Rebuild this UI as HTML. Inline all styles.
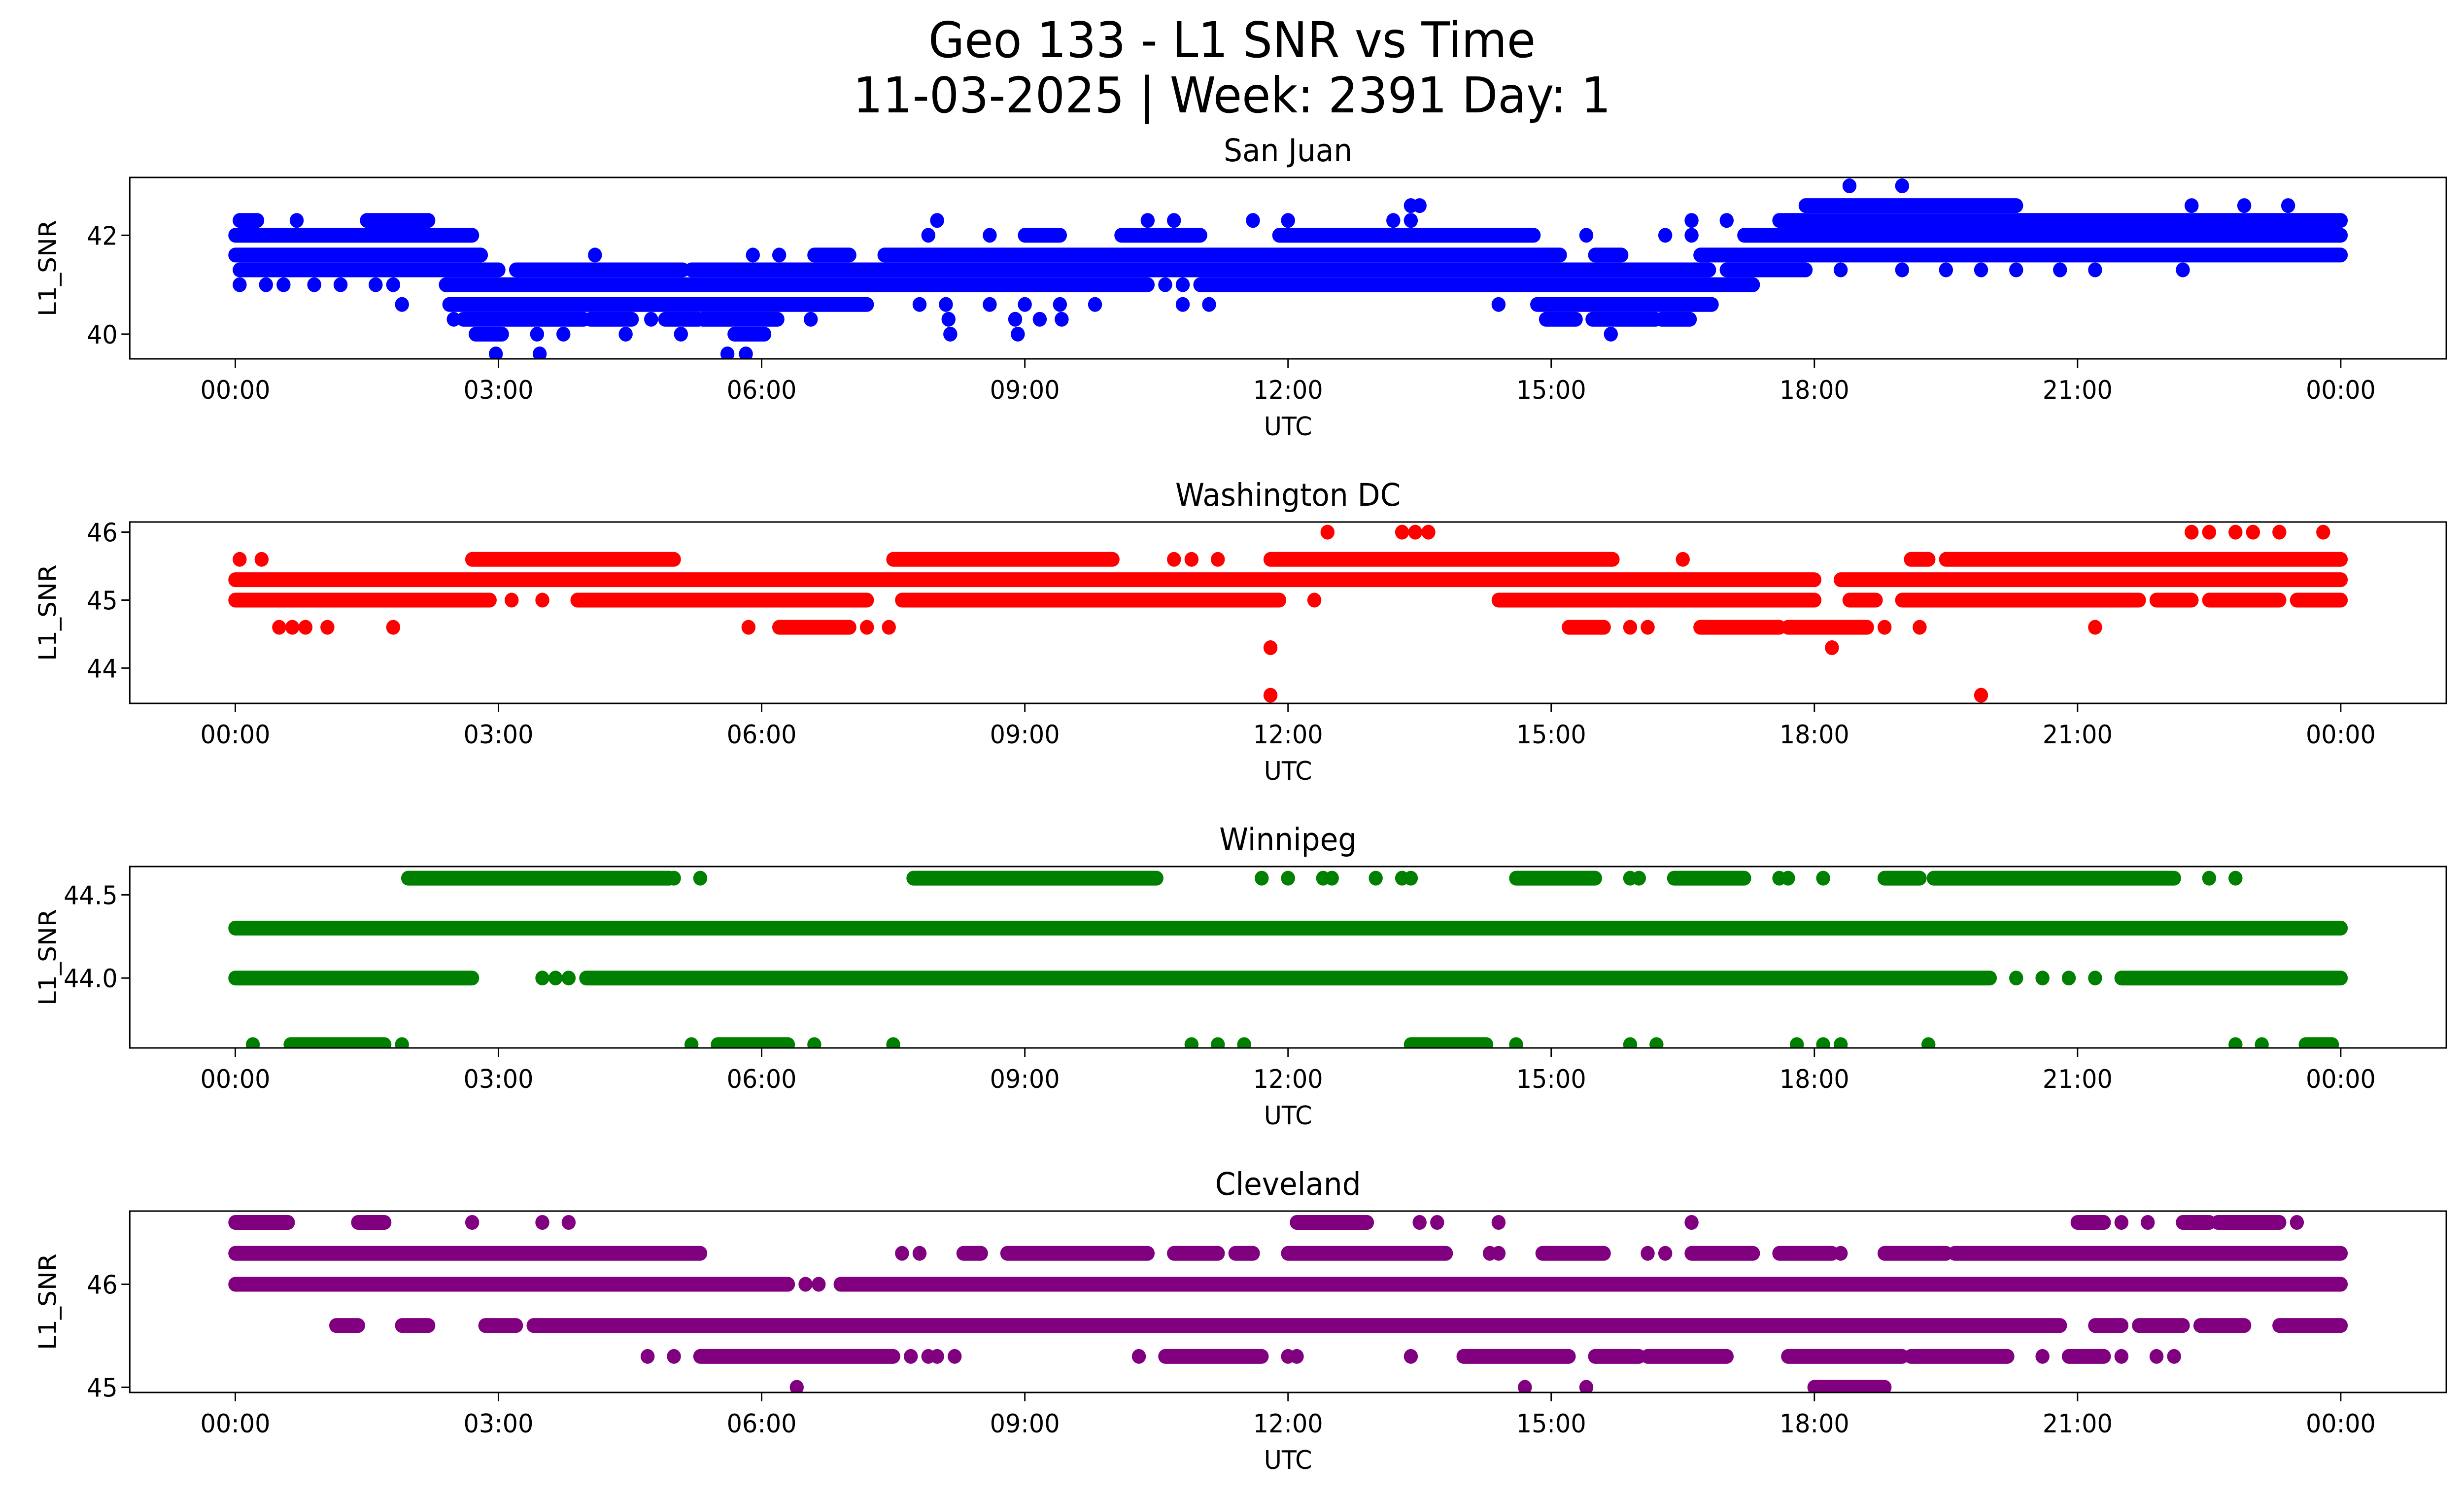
<!DOCTYPE html>
<html><head><meta charset="utf-8"><style>
html,body{margin:0;padding:0;background:#fff;overflow:hidden;width:100%;height:100%;}
svg{display:block;width:100vw;height:100vh;font-family:"DejaVu Sans","Liberation Sans",sans-serif;}
</style></head><body>
<svg id="chart" viewBox="0 0 5278 3033" preserveAspectRatio="none" xmlns="http://www.w3.org/2000/svg">
<rect width="5278" height="3033" fill="#fff"/>
<text x="2639" y="116" font-size="100" text-anchor="middle">Geo 133 - L1 SNR vs Time</text>
<text x="2639" y="228" font-size="100" text-anchor="middle">11-03-2025 | Week: 2391 Day: 1</text>
</svg>
<script>
// ---- data (hours UTC, SNR) ----
const tickHours = [0,3,6,9,12,15,18,21,24];
const tickLabels = ["00:00","03:00","06:00","09:00","12:00","15:00","18:00","21:00","00:00"];
const stationNames = ["San Juan","Washington DC","Winnipeg","Cleveland"];
const stationColors = ["#0000ff","#ff0000","#008000","#800080"];
const yLimits = [[39.5,43.17],[43.48,46.15],[43.58,44.67],[44.95,46.71]];
const yTickValues = [[40,42],[44,45,46],[44.0,44.5],[45,46]];
const yTickLabels = [["40","42"],["44","45","46"],["44.0","44.5"],["45","46"]];

// runs: [snr, startHour, endHour]  (dense consecutive samples)
const sanJuanRuns = [
 [42.3,0.05,0.25],[42.3,1.5,2.2],[42.3,17.6,24],
 [42.6,17.9,20.3],
 [42.0,0,2.7],[42.0,9.0,9.4],[42.0,10.1,11.0],[42.0,11.9,14.8],[42.0,17.2,24],
 [41.6,0,2.8],[41.6,6.6,7.0],[41.6,7.4,15.1],[41.6,15.5,15.8],[41.6,16.7,24],
 [41.3,0.05,3.0],[41.3,3.2,5.1],[41.3,5.2,16.8],[41.3,17.0,17.9],
 [41.0,2.4,10.4],[41.0,11.0,17.3],
 [40.6,2.44,7.2],[40.6,14.84,16.83],
 [40.3,2.6,3.97],[40.3,4.05,4.52],[40.3,4.9,5.28],[40.3,5.33,6.18],[40.3,14.94,15.28],[40.3,15.47,16.19],[40.3,16.26,16.58],
 [40.0,2.74,3.04],[40.0,5.69,6.03]
];
const sanJuanPoints = [
 [0.7,42.3],[8.0,42.3],[10.4,42.3],[10.7,42.3],[11.6,42.3],[12.0,42.3],[13.2,42.3],[13.4,42.3],[16.6,42.3],[17.0,42.3],
 [13.4,42.6],[13.5,42.6],[22.3,42.6],[22.9,42.6],[23.4,42.6],
 [18.4,43.0],[19.0,43.0],
 [7.9,42.0],[8.6,42.0],[15.4,42.0],[16.3,42.0],[16.6,42.0],
 [4.1,41.6],[5.9,41.6],[6.2,41.6],
 [18.3,41.3],[19.0,41.3],[19.5,41.3],[19.9,41.3],[20.3,41.3],[20.8,41.3],[21.2,41.3],[22.2,41.3],
 [0.05,41.0],[0.35,41.0],[0.55,41.0],[0.9,41.0],[1.2,41.0],[1.6,41.0],[1.8,41.0],[10.6,41.0],[10.8,41.0],
 [1.9,40.6],[7.8,40.6],[8.1,40.6],[8.6,40.6],[9.0,40.6],[9.4,40.6],[9.8,40.6],[10.8,40.6],[11.1,40.6],[14.4,40.6],
 [2.49,40.3],[4.74,40.3],[6.56,40.3],[8.13,40.3],[8.89,40.3],[9.17,40.3],[9.42,40.3],
 [3.44,40.0],[3.74,40.0],[4.45,40.0],[5.08,40.0],[8.15,40.0],[8.92,40.0],[15.68,40.0],
 [2.97,39.6],[3.47,39.6],[5.61,39.6],[5.82,39.6]
];
const washingtonRuns = [
 [45.3,0,18.0],[45.3,18.3,24],
 [45.0,0,2.9],[45.0,3.9,7.2],[45.0,7.6,11.9],[45.0,14.4,18.0],[45.0,18.4,18.7],[45.0,19.0,21.7],[45.0,21.9,22.3],[45.0,22.5,23.3],[45.0,23.5,24],
 [45.6,2.7,5.0],[45.6,7.5,10.0],[45.6,11.8,15.7],[45.6,19.1,19.3],[45.6,19.5,24],
 [44.6,6.2,7.0],[44.6,15.2,15.6],[44.6,16.7,17.6],[44.6,17.7,18.6]
];
const washingtonPoints = [
 [3.15,45.0],[3.5,45.0],[12.3,45.0],
 [0.05,45.6],[0.3,45.6],[10.7,45.6],[10.9,45.6],[11.2,45.6],[16.5,45.6],
 [12.45,46.0],[13.3,46.0],[13.45,46.0],[13.6,46.0],[22.3,46.0],[22.5,46.0],[22.8,46.0],[23.0,46.0],[23.3,46.0],[23.8,46.0],
 [0.5,44.6],[0.65,44.6],[0.8,44.6],[1.05,44.6],[1.8,44.6],[5.85,44.6],[7.2,44.6],[7.45,44.6],[15.9,44.6],[16.1,44.6],[18.8,44.6],[19.2,44.6],[21.2,44.6],
 [11.8,44.3],[18.2,44.3],
 [11.8,43.6],[19.9,43.6]
];
const winnipegRuns = [
 [44.3,0,24],
 [44.0,0,2.7],[44.0,4.0,20.0],[44.0,21.5,24],
 [44.6,1.97,4.95],[44.6,7.73,10.5],[44.6,14.6,15.5],[44.6,16.4,17.2],[44.6,18.8,19.2],[44.6,19.36,22.1],
 [43.6,0.63,1.7],[43.6,5.5,6.3],[43.6,13.4,14.26],[43.6,23.6,23.9]
];
const winnipegPoints = [
 [3.5,44.0],[3.65,44.0],[3.8,44.0],[20.3,44.0],[20.6,44.0],[20.9,44.0],[21.2,44.0],
 [5.0,44.6],[5.3,44.6],[11.7,44.6],[12.0,44.6],[12.4,44.6],[12.5,44.6],[13.0,44.6],[13.3,44.6],[13.4,44.6],[15.9,44.6],[16.0,44.6],[17.6,44.6],[17.7,44.6],[18.1,44.6],[22.5,44.6],[22.8,44.6],
 [0.2,43.6],[1.9,43.6],[5.2,43.6],[6.6,43.6],[7.5,43.6],[10.9,43.6],[11.2,43.6],[11.5,43.6],[14.6,43.6],[15.9,43.6],[16.2,43.6],[17.8,43.6],[18.1,43.6],[18.3,43.6],[19.3,43.6],[22.8,43.6],[23.1,43.6]
];
const clevelandRuns = [
 [46.0,0,6.3],[46.0,6.9,24],
 [45.6,1.15,1.4],[45.6,1.9,2.2],[45.6,2.85,3.2],[45.6,3.4,20.8],[45.6,21.2,21.5],[45.6,21.7,22.2],[45.6,22.4,22.9],[45.6,23.3,24],
 [46.3,0,5.3],[46.3,8.3,8.5],[46.3,8.8,10.4],[46.3,10.7,11.2],[46.3,11.4,11.6],[46.3,12.0,13.8],[46.3,14.9,15.6],[46.3,16.6,17.3],[46.3,17.6,18.2],[46.3,18.8,19.5],[46.3,19.6,24],
 [46.6,0,0.6],[46.6,1.4,1.7],[46.6,12.1,12.9],[46.6,21.0,21.3],[46.6,22.2,22.5],[46.6,22.6,23.3],
 [45.3,5.3,7.5],[45.3,10.6,11.7],[45.3,14.0,15.2],[45.3,15.5,16.0],[45.3,16.1,17.0],[45.3,17.7,19.0],[45.3,19.1,20.2],[45.3,20.9,21.3],
 [45.0,18.0,18.8]
];
const clevelandPoints = [
 [6.5,46.0],[6.65,46.0],
 [7.6,46.3],[7.8,46.3],[14.3,46.3],[14.4,46.3],[16.1,46.3],[16.3,46.3],[18.3,46.3],
 [2.7,46.6],[3.5,46.6],[3.8,46.6],[13.5,46.6],[13.7,46.6],[14.4,46.6],[16.6,46.6],[21.5,46.6],[21.8,46.6],[23.5,46.6],
 [4.7,45.3],[5.0,45.3],[7.7,45.3],[7.9,45.3],[8.0,45.3],[8.2,45.3],[10.3,45.3],[12.0,45.3],[12.1,45.3],[13.4,45.3],[20.6,45.3],[21.5,45.3],[21.9,45.3],[22.1,45.3],
 [6.4,45.0],[14.7,45.0],[15.4,45.0]
];
const allRuns = [sanJuanRuns, washingtonRuns, winnipegRuns, clevelandRuns];
const allPoints = [sanJuanPoints, washingtonPoints, winnipegPoints, clevelandPoints];

// ---- layout ----
const svg = document.getElementById('chart');
const NS = 'http://www.w3.org/2000/svg';
const AX_L = 278, AX_R = 5240, AX_H = 368, AX_TOP0 = 360, AX_STEP = 699;
const X0 = 504, X24 = 5014, R = 15;
function xScale(h){ return X0 + h*(X24-X0)/24; }
function mk(tag, attrs, parent){ const e=document.createElementNS(NS,tag); for(const k in attrs) e.setAttribute(k,attrs[k]); (parent||svg).appendChild(e); return e; }

for (let p=0; p<4; p++){
  const top = AX_TOP0 + p*AX_STEP, bot = top + AX_H;
  const [ymin,ymax] = yLimits[p];
  const yScale = v => bot - (v-ymin)/(ymax-ymin)*AX_H;
  const g = mk('g',{});
  
  
  const cp = mk('clipPath',{id:'clip'+p}, g);
  mk('rect',{x:AX_L,y:top,width:AX_R-AX_L,height:AX_H}, cp);
  const data = mk('g',{'clip-path':'url(#clip'+p+')'}, g);
  
  
  const col = stationColors[p];
  allRuns[p].forEach(r=>{
    const ln = mk('line',{x1:xScale(r[1]),x2:xScale(r[2]),y1:yScale(r[0]),y2:yScale(r[0]),stroke:col,'stroke-width':2*R,'stroke-linecap':'round'}, data);
    
    
  });
  allPoints[p].forEach(pt=>{
    const c = mk('circle',{cx:xScale(pt[0]),cy:yScale(pt[1]),r:R,fill:col}, data);
    
    
  });
  const frame = mk('rect',{x:AX_L,y:top,width:AX_R-AX_L,height:AX_H,fill:'none',stroke:'#000','stroke-width':3}, g);
  
  
  tickHours.forEach((h,i)=>{
    const x = xScale(h);
    mk('line',{x1:x,x2:x,y1:bot,y2:bot+18,stroke:'#000','stroke-width':3}, g);
    const t = mk('text',{x:x,y:bot+81,'font-size':52,'text-anchor':'middle'}, g);
    t.textContent = tickLabels[i];
    
    
  });
  yTickValues[p].forEach((v,i)=>{
    const y = yScale(v);
    mk('line',{x1:AX_L-18,x2:AX_L,y1:y,y2:y,stroke:'#000','stroke-width':3}, g);
    const t = mk('text',{x:AX_L-26,y:y+19,'font-size':52,'text-anchor':'end'}, g);
    t.textContent = yTickLabels[p][i];
    
    
  });
  const xl = mk('text',{x:(AX_L+AX_R)/2,y:bot+155,'font-size':52,'text-anchor':'middle'}, g);
  xl.textContent = 'UTC';
  
  
  const cy = (top+bot)/2;
  const yl = mk('text',{x:120,y:cy,'font-size':52,'text-anchor':'middle',transform:'rotate(-90 120 '+cy+')'}, g);
  yl.textContent = 'L1_SNR';
  
  
  const tt = mk('text',{x:(AX_L+AX_R)/2,y:top-33,'font-size':63,'text-anchor':'middle'}, g);
  tt.textContent = stationNames[p];
  
  
}
</script>
</body></html>
